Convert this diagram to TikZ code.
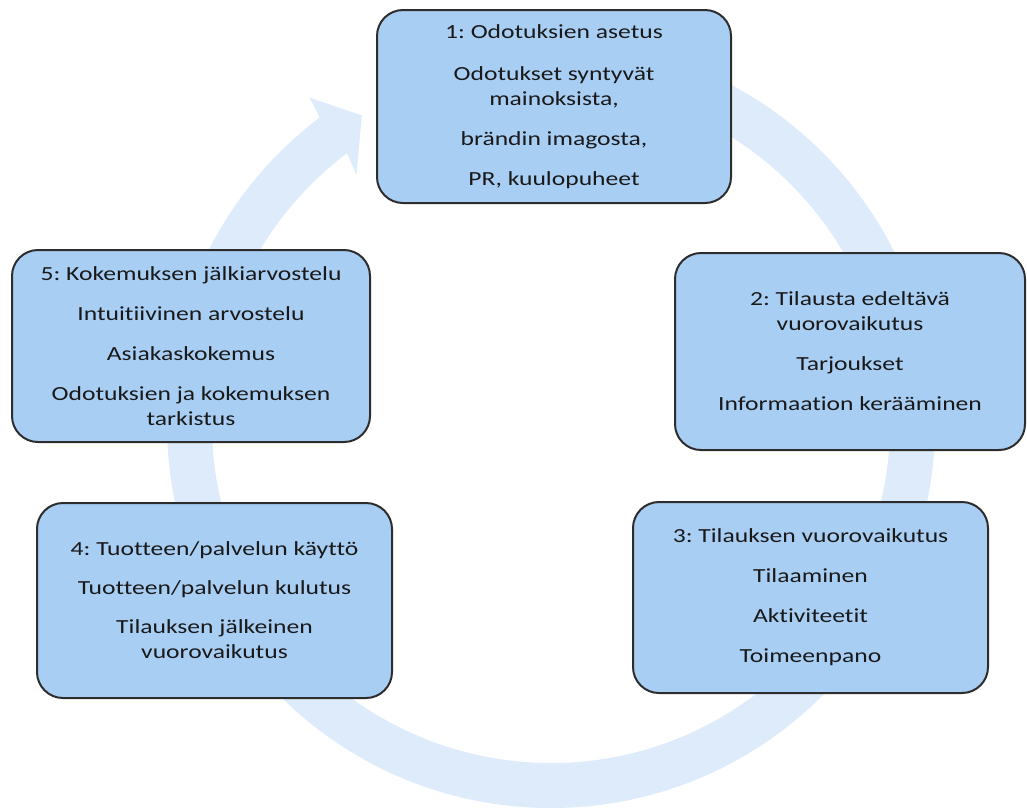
\documentclass[tikz,border=0pt]{standalone}
\usepackage{fontspec}
\setmainfont{Carlito}[FakeStretch=1.28, Ligatures=NoCommon]
\frenchspacing
\usepackage{xcolor}
\definecolor{colorBox}{RGB}{169,206,244}
\definecolor{colorRing}{RGB}{222,235,251}
\definecolor{colorBorder}{RGB}{45,45,45}
\definecolor{colorText}{RGB}{25,25,25}
\usepackage{tikz}

\begin{document}
\begin{tikzpicture}[x=0.5pt, y=0.5pt, phase/.style={draw=colorBorder, line width=1pt, fill=colorBox, rounded corners=13pt, align=center, text=colorText, inner sep=0pt, font=\fontsize{10}{12.5}\selectfont}]
\useasboundingbox (0,0) rectangle (1027,-810);
% ring arrow behind the phases
\begin{scope}[shift={(551,-424)}]
\fill[colorRing] (90:384) arc[start angle=90, end angle=-233, radius=384] -- (-233.5:406) -- (-238.5:362) -- (-232:316) -- (-233:339) arc[start angle=-233, end angle=90, radius=339] -- cycle;
\end{scope}
\node[phase, minimum width=177pt, minimum height=96.5pt] (p1) at (554,-106.5) {1: Odotuksien asetus\\[8.5pt]Odotukset syntyvät\\mainoksista,\\[7.5pt]brändin imagosta,\\[7.5pt]PR, kuulopuheet};
\node[phase, minimum width=175pt, minimum height=98.5pt] (p2) at (850,-351.5) {2: Tilausta edeltävä\\vuorovaikutus\\[7.5pt]Tarjoukset\\[7.5pt]Informaation kerääminen};
\node[phase, minimum width=177.5pt, minimum height=95.5pt] (p3) at (810.5,-597.5) {3: Tilauksen vuorovaikutus\\[7.5pt]Tilaaminen\\[7.5pt]Aktiviteetit\\[7.5pt]Toimeenpano};
\node[phase, minimum width=177.5pt, minimum height=97.5pt] (p4) at (214.5,-600.5) {4: Tuotteen/palvelun käyttö\\[7pt]Tuotteen/palvelun kulutus\\[7pt]Tilauksen jälkeinen\\vuorovaikutus};
\node[phase, minimum width=179pt, minimum height=96pt] (p5) at (191,-346) {5: Kokemuksen jälkiarvostelu\\[7.5pt]Intuitiivinen arvostelu\\[7.5pt]Asiakaskokemus\\[7.5pt]Odotuksien ja kokemuksen\\tarkistus};
\end{tikzpicture}
\end{document}
